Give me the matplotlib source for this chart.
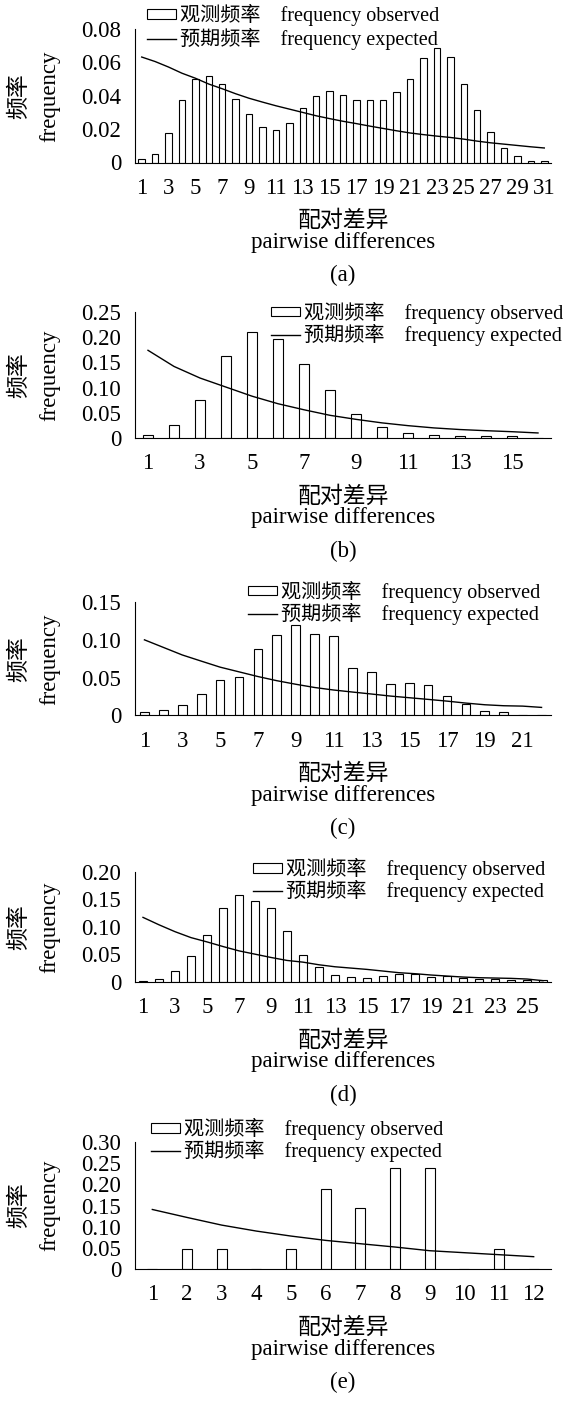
import matplotlib
matplotlib.use('Agg')
import matplotlib.pyplot as plt
from matplotlib.patches import Rectangle
from matplotlib.lines import Line2D

# フォント設定(英字はTimes系、漢字はCJKへフォールバック)
plt.rcParams['font.family'] = ['Liberation Serif', 'Noto Sans CJK SC']

# ---- data ----
# (a)
diff_a = list(range(1, 32))
obs_a = [0.002, 0.0053, 0.0174, 0.0375, 0.0498, 0.052, 0.047, 0.038, 0.029, 0.0215,
         0.0194, 0.0235, 0.0326, 0.040, 0.043, 0.0407, 0.0375, 0.0375, 0.0375, 0.0423,
         0.050, 0.0624, 0.0686, 0.063, 0.0472, 0.0312, 0.018, 0.0089, 0.0036, 0.0006, 0.0006]
exp_a = [0.0632, 0.0605, 0.0572, 0.0535, 0.0505, 0.0470, 0.0442, 0.0412, 0.0385, 0.0362,
         0.0340, 0.0320, 0.0300, 0.0280, 0.0263, 0.0247, 0.0233, 0.0218, 0.0204, 0.0190,
         0.0177, 0.0167, 0.0158, 0.0150, 0.0140, 0.0128, 0.0118, 0.0110, 0.0102, 0.0094, 0.0087]
yticks_a = [0, 0.02, 0.04, 0.06, 0.08]
ylabels_a = ["0", "0.02", "0.04", "0.06", "0.08"]
xticks_a = list(range(1, 32, 2))

# (b)
diff_b = list(range(1, 17))
obs_b = [0.006, 0.025, 0.076, 0.163, 0.210, 0.196, 0.146, 0.095, 0.048, 0.022,
         0.010, 0.006, 0.004, 0.004, 0.004, 0.0]
exp_b = [0.174, 0.142, 0.119, 0.101, 0.083, 0.068, 0.056, 0.045, 0.037, 0.030,
         0.0245, 0.020, 0.0168, 0.0145, 0.0125, 0.010]
yticks_b = [0, 0.05, 0.10, 0.15, 0.20, 0.25]
ylabels_b = ["0", "0.05", "0.10", "0.15", "0.20", "0.25"]
xticks_b = list(range(1, 17, 2))

# (c)
diff_c = list(range(1, 23))
obs_c = [0.004, 0.0067, 0.0133, 0.029, 0.047, 0.051, 0.088, 0.107, 0.119, 0.108,
         0.105, 0.0626, 0.057, 0.0417, 0.043, 0.040, 0.0257, 0.0147, 0.0053, 0.004,
         0.0013, 0.0]
exp_c = [0.100, 0.090, 0.080, 0.0719, 0.0639, 0.0577, 0.0515, 0.046, 0.0413, 0.037,
         0.0337, 0.031, 0.0284, 0.0257, 0.0235, 0.0213, 0.019, 0.0164, 0.0142, 0.0129,
         0.0124, 0.0107]
yticks_c = [0, 0.05, 0.10, 0.15]
ylabels_c = ["0", "0.05", "0.10", "0.15"]
xticks_c = list(range(1, 23, 2))

# (d)
diff_d = list(range(1, 27))
obs_d = [0.0018, 0.0048, 0.0193, 0.0476, 0.085, 0.134, 0.158, 0.147, 0.134, 0.093,
         0.050, 0.0265, 0.013, 0.009, 0.0066, 0.0102, 0.0151, 0.0151, 0.009, 0.011,
         0.0066, 0.0054, 0.006, 0.0036, 0.0036, 0.003]
exp_d = [0.1175, 0.104, 0.0915, 0.0807, 0.0729, 0.0645, 0.0566, 0.0506, 0.0446, 0.0392,
         0.0361, 0.0313, 0.0277, 0.0253, 0.0229, 0.0199, 0.0169, 0.0151, 0.0127, 0.0108,
         0.009, 0.0078, 0.0072, 0.0066, 0.0054, 0.0024]
yticks_d = [0, 0.05, 0.10, 0.15, 0.20]
ylabels_d = ["0", "0.05", "0.10", "0.15", "0.20"]
xticks_d = list(range(1, 27, 2))

# (e)
diff_e = list(range(1, 13))
obs_e = [0.0, 0.048, 0.048, 0.0, 0.048, 0.190, 0.143, 0.238, 0.238, 0.0, 0.048, 0.0]
exp_e = [0.1406, 0.1218, 0.1037, 0.0896, 0.0778, 0.0676, 0.0597, 0.0519, 0.0432, 0.0385,
         0.0338, 0.0291]
yticks_e = [0, 0.05, 0.10, 0.15, 0.20, 0.25, 0.30]
ylabels_e = ["0", "0.05", "0.10", "0.15", "0.20", "0.25", "0.30"]
xticks_e = list(range(1, 13))

legend_labels = ["观测频率    frequency observed", "预期频率    frequency expected"]
xlabel_cn = "配对差异"
xlabel_en = "pairwise differences"
ylabel_cn = "频率"
ylabel_en = "frequency"

# ---- layout (pixel) ----
W, H = 563, 1402
AX_L, AX_R = 135, 551
FS = 16.5
LEG_FS = 14.5


def fx(px):
    return px / W


def fy(py):
    return 1 - py / H


fig = plt.figure(figsize=(W / 100, H / 100), dpi=100)

# top, zero, ymax, bar width, legend x, legend y, caption
panels = [
    (diff_a, obs_a, exp_a, yticks_a, ylabels_a, xticks_a, 29, 162.5, 0.08, 0.48, 147, 15, 0.1, "(a)"),
    (diff_b, obs_b, exp_b, yticks_b, ylabels_b, xticks_b, 312, 438, 0.25, 0.40, 271, 312.5, 0.0, "(b)"),
    (diff_c, obs_c, exp_c, yticks_c, ylabels_c, xticks_c, 602, 715.5, 0.15, 0.46, 248, 591.5, 0.0, "(c)"),
    (diff_d, obs_d, exp_d, yticks_d, ylabels_d, xticks_d, 872, 982, 0.20, 0.45, 253, 869, 0.0, "(d)"),
    (diff_e, obs_e, exp_e, yticks_e, ylabels_e, xticks_e, 1142, 1269, 0.30, 0.28, 151, 1129, 0.0, "(e)"),
]

for (diff, obs, exp, yt, ytl, xt, top, zero, ymax, bw, lx, ly, lsp, cap) in panels:
    ax = fig.add_axes([fx(AX_L), fy(zero), fx(AX_R) - fx(AX_L), (zero - top) / H])
    ax.bar(diff, obs, bw, color="white", edgecolor="black", linewidth=0.8, zorder=2)
    ax.plot(diff, exp, color="black", linewidth=1.0, zorder=3)
    ax.set_xlim(0.5, len(diff) + 0.5)
    ax.set_ylim(0, ymax)
    ax.set_yticks(yt)
    ax.set_yticklabels(ytl)
    ax.set_xticks(xt)
    ax.set_xticklabels([str(v) for v in xt])
    ax.tick_params(length=0, labelsize=FS)
    ax.tick_params(axis="y", pad=10)
    ax.tick_params(axis="x", pad=11)
    for s in ["top", "right"]:
        ax.spines[s].set_visible(False)
    for s in ["left", "bottom"]:
        ax.spines[s].set_linewidth(0.8)
    ax.patch.set_visible(False)

    # 凡例
    handles = [Rectangle((0, 0), 1, 1, facecolor="white", edgecolor="black", linewidth=0.8),
               Line2D([], [], color="black", linewidth=1.0)]
    ax.legend(handles, legend_labels, loc="upper left",
              bbox_to_anchor=(fx(lx), fy(ly - 11)), bbox_transform=fig.transFigure,
              frameon=False, borderpad=0, borderaxespad=0, handlelength=1.44,
              handleheight=0.35, handletextpad=0.2, labelspacing=lsp, fontsize=LEG_FS)

    # 軸ラベル
    yc = (top + zero) / 2
    fig.text(fx(20), fy(yc), ylabel_cn, rotation=90, ha="center", va="center", fontsize=FS)
    fig.text(fx(50), fy(yc), ylabel_en, rotation=90, ha="center", va="center", fontsize=FS)
    xc = (AX_L + AX_R) / 2
    fig.text(fx(xc), fy(zero + 59), xlabel_cn, ha="center", va="center", fontsize=FS)
    fig.text(fx(xc), fy(zero + 80), xlabel_en, ha="center", va="center", fontsize=FS)
    fig.text(fx(xc), fy(zero + 113), cap, ha="center", va="center", fontsize=FS)

fig.savefig("out.png", dpi=100)
